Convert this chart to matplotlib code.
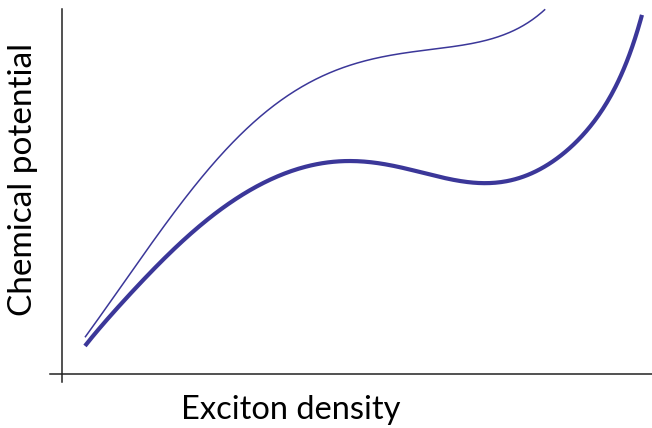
import numpy as np
import matplotlib
matplotlib.use("Agg")
import matplotlib.pyplot as plt

# Data (arbitrary units)
thin_x = [0.39, 0.69, 1.27, 1.83, 2.31, 3.36, 3.92, 4.49, 5.05, 5.61, 6.19, 6.75, 7.31, 7.71, 8.19]
thin_y = [1.01, 1.67, 3.04, 4.22, 5.32, 7.04, 7.70, 8.25, 8.55, 8.74, 8.85, 9.01, 9.23, 9.42, 10.0]
thick_x = [0.39, 1.27, 1.83, 2.39, 2.97, 3.41, 3.92, 4.76, 5.61, 6.07, 6.46, 6.92, 7.31, 7.59,
           7.88, 8.22, 8.78, 9.24, 9.58, 9.83]
thick_y = [0.77, 2.38, 3.34, 4.14, 4.77, 5.23, 5.64, 5.81, 5.67, 5.53, 5.40, 5.30, 5.25, 5.27,
           5.34, 5.80, 6.49, 7.42, 8.60, 9.84]
x_label = "Exciton density"
y_label = "Chemical potential"

COLOR = "#3B3799"


def smooth(xs, ys, deg):
    xs = np.asarray(xs, float)
    ys = np.asarray(ys, float)
    c = np.polynomial.Polynomial.fit(xs, ys, deg)
    gx = np.linspace(xs[0], xs[-1], 400)
    return gx, c(gx)


plt.rcParams['font.family'] = ['Lato', 'DejaVu Sans']
W, H = 652, 428
fig = plt.figure(figsize=(W / 100, H / 100), dpi=100)
ax = fig.add_axes([50 / W, (H - 382) / H, (652 - 50) / W, (382 - 9) / H])
ax.set_xlim(-0.203, 10.0)
ax.set_ylim(-0.219, 10.0)

sx, sy = smooth(thin_x, thin_y, 7)
ax.plot(sx, sy, color=COLOR, lw=1.1, solid_capstyle='butt', clip_on=False)
sx, sy = smooth(thick_x, thick_y, 9)
ax.plot(sx, sy, color=COLOR, lw=3.0, solid_capstyle='butt', clip_on=False)

for s in ['top', 'right']:
    ax.spines[s].set_visible(False)
ax.spines['left'].set_position(('data', 0))
ax.spines['bottom'].set_position(('data', 0))
ax.spines['left'].set_bounds(-0.219, 10.0)
ax.spines['bottom'].set_bounds(-0.203, 10.0)
for s in ['left', 'bottom']:
    ax.spines[s].set_linewidth(1.1)
    ax.spines[s].set_color('#222222')
ax.set_xticks([])
ax.set_yticks([])

fig.text(291 / W, 1 - 410 / H, x_label, ha='center', va='center', fontsize=23.5)
fig.text(23 / W, 1 - 179 / H, y_label, ha='center', va='center', fontsize=24, rotation=90)

fig.savefig("out.png", dpi=100)
